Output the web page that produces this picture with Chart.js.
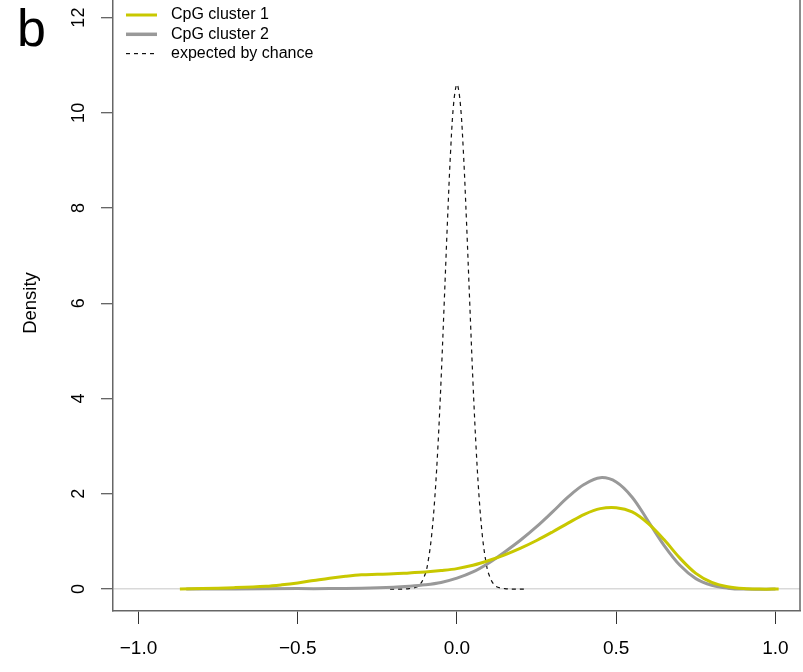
<!DOCTYPE html>
<html>
<head>
<meta charset="utf-8">
<script src="https://cdn.jsdelivr.net/npm/chart.js@4"></script>
<style>
  body { margin: 0; background: #fff; }
  canvas { display: block; }
</style>
</head>
<body>
<canvas id="densityChart" width="803" height="672"></canvas>
<script>
// CpG cluster 1 (yellow)
const c1X = [-0.87, -0.80, -0.70, -0.60, -0.55, -0.50, -0.45, -0.40, -0.35, -0.30, -0.25, -0.20, -0.15, -0.10, -0.05, 0.00, 0.05, 0.10, 0.15, 0.20, 0.25, 0.30, 0.35, 0.40, 0.45, 0.50, 0.55, 0.60, 0.65, 0.70, 0.75, 0.80, 0.85, 0.90, 0.95, 1.01];
const c1Y = [0.00, 0.01, 0.03, 0.06, 0.09, 0.13, 0.18, 0.23, 0.27, 0.30, 0.31, 0.32, 0.34, 0.36, 0.39, 0.43, 0.50, 0.60, 0.72, 0.86, 1.02, 1.20, 1.39, 1.57, 1.69, 1.71, 1.62, 1.38, 1.04, 0.65, 0.33, 0.14, 0.05, 0.01, 0.00, 0.00];

// CpG cluster 2 (grey)
const c2X = [-0.85, -0.70, -0.50, -0.40, -0.30, -0.20, -0.15, -0.10, -0.05, 0.00, 0.05, 0.10, 0.15, 0.20, 0.25, 0.30, 0.35, 0.40, 0.45, 0.50, 0.55, 0.60, 0.65, 0.70, 0.75, 0.80, 0.85, 0.90, 1.00];
const c2Y = [0.00, 0.00, 0.01, 0.01, 0.02, 0.04, 0.06, 0.09, 0.14, 0.23, 0.36, 0.55, 0.78, 1.03, 1.31, 1.62, 1.94, 2.20, 2.34, 2.25, 1.93, 1.43, 0.92, 0.50, 0.22, 0.08, 0.02, 0.00, 0.00];

// expected by chance (dashed)
const chanceX = [-0.21, -0.18, -0.15, -0.12, -0.10, -0.09, -0.08, -0.07, -0.06, -0.05, -0.04, -0.03, -0.02, -0.01, 0.00, 0.01, 0.02, 0.03, 0.04, 0.05, 0.06, 0.07, 0.08, 0.09, 0.10, 0.12, 0.15, 0.18, 0.21];
const chanceY = [0.00, 0.00, 0.01, 0.07, 0.31, 0.61, 1.10, 1.88, 2.97, 4.38, 6.02, 7.70, 9.20, 10.23, 10.60, 10.23, 9.20, 7.70, 6.02, 4.38, 2.97, 1.88, 1.10, 0.61, 0.31, 0.07, 0.01, 0.00, 0.00];

const xTicks = [-1.0, -0.5, 0.0, 0.5, 1.0];
const yTicks = [0, 2, 4, 6, 8, 10, 12];
const legendLabels = ["CpG cluster 1", "CpG cluster 2", "expected by chance"];

const clrCluster1 = '#c8c800';
const clrCluster2 = '#999999';
const fontName = '"Liberation Sans", Arial, sans-serif';

function toPoints(xs, ys) {
	return xs.map((x, i) => ({ x: x, y: ys[i] }));
}

function fmt(v) {
	return v.toFixed(1).replace('-', '\u2212');
}

// draws the R-style bits: rotated y labels, box edge, legend, panel letter
const decor = {
	id: 'decor',
	afterDraw(chart) {
		const ctx = chart.ctx;
		const area = chart.chartArea;
		const yScale = chart.scales.y;
		ctx.save();

		// right edge of the box
		ctx.strokeStyle = '#666';
		ctx.lineWidth = 1.5;
		ctx.beginPath();
		ctx.moveTo(area.right, area.top);
		ctx.lineTo(area.right, area.bottom);
		ctx.stroke();

		// y tick labels, rotated like R's las=0
		ctx.fillStyle = '#000';
		ctx.font = '18px ' + fontName;
		ctx.textAlign = 'center';
		ctx.textBaseline = 'middle';
		yTicks.forEach(v => {
			ctx.save();
			ctx.translate(79, yScale.getPixelForValue(v));
			ctx.rotate(-Math.PI / 2);
			ctx.fillText(String(v), 0, 0);
			ctx.restore();
		});

		// axis title
		ctx.font = '18.5px ' + fontName;
		ctx.save();
		ctx.translate(31, 303);
		ctx.rotate(-Math.PI / 2);
		ctx.fillText('Density', 0, 0);
		ctx.restore();

		// panel letter
		ctx.font = '52px ' + fontName;
		ctx.textAlign = 'left';
		ctx.textBaseline = 'alphabetic';
		ctx.fillText('b', 17, 46);

		// legend
		ctx.font = '16px ' + fontName;
		ctx.textBaseline = 'middle';
		chart.data.datasets.forEach((ds, i) => {
			const y = 15 + i * 19.3;
			ctx.strokeStyle = ds.borderColor;
			ctx.lineWidth = i == 1 ? 3.5 : (i == 0 ? 3 : 1.2);
			ctx.setLineDash(ds.borderDash || []);
			ctx.beginPath();
			ctx.moveTo(126, y);
			ctx.lineTo(157, y);
			ctx.stroke();
			ctx.setLineDash([]);
			ctx.fillStyle = '#000';
			ctx.fillText(legendLabels[i], 171, y);
		});

		ctx.restore();
	}
};

let chart = new Chart('densityChart', {
	type: 'line',
	data: {
		datasets: [{
			label: legendLabels[0],
			data: toPoints(c1X, c1Y),
			borderColor: clrCluster1,
			borderWidth: 3
		}, {
			label: legendLabels[1],
			data: toPoints(c2X, c2Y),
			borderColor: clrCluster2,
			borderWidth: 3
		}, {
			label: legendLabels[2],
			data: toPoints(chanceX, chanceY),
			borderColor: '#111',
			borderWidth: 1.2,
			borderDash: [4, 4]
		}]
	},
	options: {
		responsive: false,
		animation: false,
		layout: {
			padding: { left: 0, right: 3, top: 0, bottom: 0 }
		},
		elements: {
			point: { radius: 0 },
			line: { tension: 0.35, fill: false }
		},
		scales: {
			x: {
				type: 'linear',
				min: -1.08,
				max: 1.077,
				afterBuildTicks: s => { s.ticks = xTicks.map(v => ({ value: v })); },
				afterFit: s => { s.height = 61; },
				border: { color: '#666', width: 1.5 },
				grid: {
					drawOnChartArea: false,
					tickLength: 13,
					tickColor: '#333',
					tickWidth: 1
				},
				ticks: {
					color: '#000',
					padding: 13,
					font: { family: fontName, size: 19 },
					callback: v => fmt(v)
				}
			},
			y: {
				type: 'linear',
				min: -0.46,
				max: 12.37,
				afterBuildTicks: s => { s.ticks = yTicks.map(v => ({ value: v })); },
				afterFit: s => { s.width = 113; },
				border: { color: '#666', width: 1.5 },
				grid: {
					color: c => (c.tick && c.tick.value === 0) ? '#d9d9d9' : 'rgba(0,0,0,0)',
					lineWidth: 1.5,
					tickLength: 12,
					tickColor: '#333',
					tickWidth: 1
				},
				ticks: { display: false }
			}
		},
		plugins: {
			legend: { display: false },
			tooltip: { enabled: false },
			title: { display: false }
		}
	},
	plugins: [decor]
});
</script>
</body>
</html>
